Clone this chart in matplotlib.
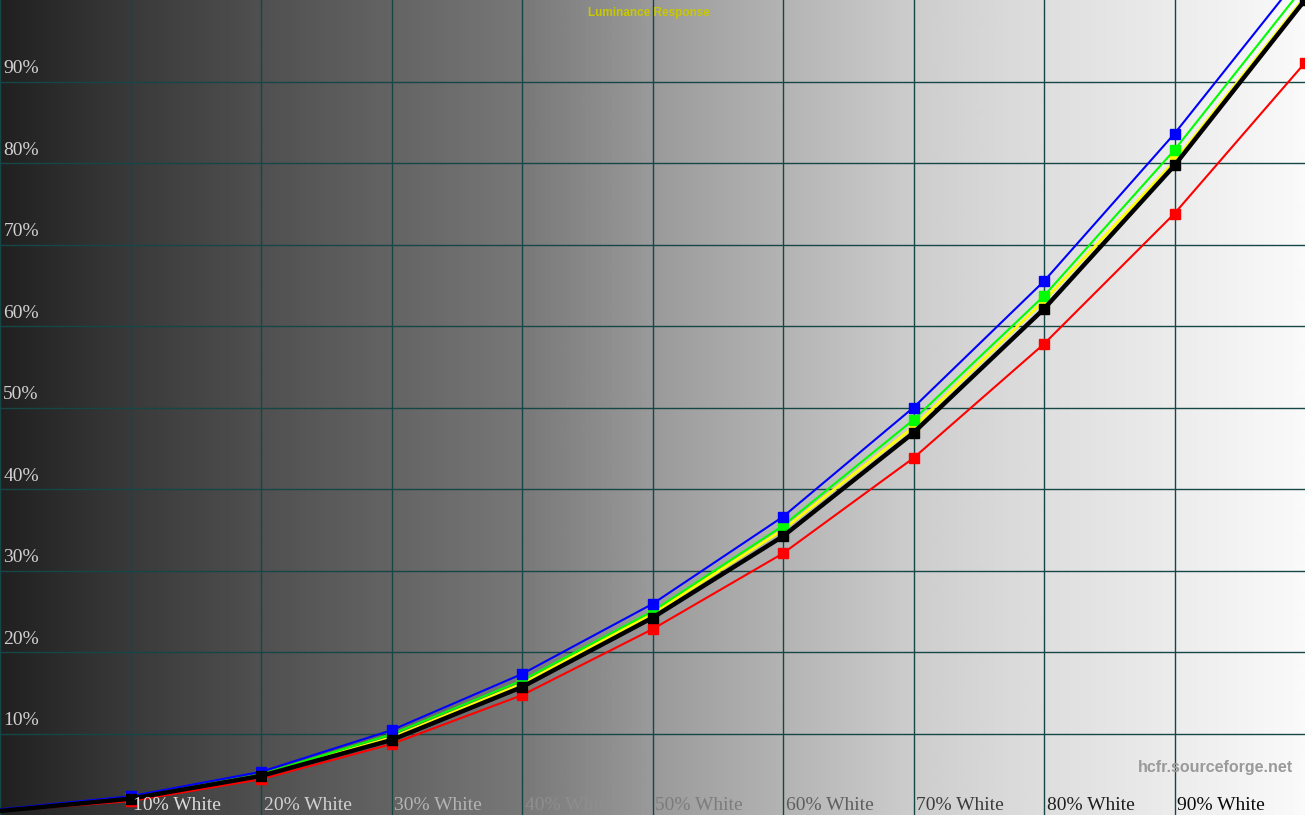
import numpy as np
import matplotlib
matplotlib.use("Agg")
import matplotlib.pyplot as plt
from matplotlib.colors import LinearSegmentedColormap

# Data (percent input vs percent luminance)
levels = [0, 10, 20, 30, 40, 50, 60, 70, 80, 90, 100]
blue = [0.7, 2.3, 5.3, 10.4, 17.3, 25.9, 36.6, 50.0, 65.5, 83.6, 103.7]
green = [0.6, 2.1, 5.0, 9.9, 16.5, 25.0, 35.5, 48.5, 63.7, 81.6, 101.8]
yellow = [0.5, 2.1, 4.9, 9.5, 16.1, 24.7, 35.0, 47.6, 63.1, 80.2, 100.4]
black = [0.5, 2.0, 4.8, 9.2, 15.7, 24.2, 34.2, 46.9, 62.1, 79.7, 100.0]
red = [0.5, 1.7, 4.4, 8.7, 14.7, 22.8, 32.1, 43.8, 57.8, 73.8, 92.3]

x_labels = ["10% White", "20% White", "30% White", "40% White", "50% White",
            "60% White", "70% White", "80% White", "90% White"]
x_label_colors = ["#dcdcdc", "#d2d2d2", "#b4b4b4", "#8e8e8e", "#7c7c7c",
                  "#5e5e5e", "#3c3c3c", "#1e1e1e", "#0a0a0a"]
y_labels = ["10%", "20%", "30%", "40%", "50%", "60%", "70%", "80%", "90%"]

# background grey ramp, left to right
bg_stops = [32, 58, 80, 100, 120, 154, 180, 205, 222, 236, 250]

fig = plt.figure(figsize=(13.05, 8.15), dpi=100)
ax = fig.add_axes([0, 0, 1, 1])
ax.set_xlim(0, 100)
ax.set_ylim(0, 100)

cmap = LinearSegmentedColormap.from_list(
    "bg", [(i / 10, [v / 255] * 3) for i, v in enumerate(bg_stops)])
grad = np.linspace(0, 1, 1305).reshape(1, -1)
ax.imshow(grad, cmap=cmap, aspect="auto", extent=[0, 100, 0, 100],
          interpolation="bilinear", zorder=0, vmin=0, vmax=1)

# grid (no lines on top/right/bottom edges)
for v in range(0, 100, 10):
    ax.axvline(v, color="#174646", lw=1.0, zorder=1)
for v in range(10, 100, 10):
    ax.axhline(v, color="#174646", lw=1.0, zorder=1)

# curves
mk = dict(marker="s", ms=7, markevery=list(range(1, 11)))
ax.plot(levels, red, color="#ff0000", lw=1.5, zorder=3, **mk)
ax.plot(levels, yellow, color="#ffff00", lw=2.0, zorder=3, **mk)
ax.plot(levels, black, color="#000000", lw=3.2, zorder=4, **mk)
ax.plot(levels, green, color="#00ff00", lw=1.5, zorder=3, **mk)
ax.plot(levels, blue, color="#0000ff", lw=1.5, zorder=3, **mk)

# axis labels drawn inside the plot
for i, lab in enumerate(y_labels):
    ax.text(0.25, (i + 1) * 10 + 0.55, lab, family="Liberation Serif",
            fontsize=14, color="#d0d0d0", ha="left", va="bottom", zorder=5)
for i, lab in enumerate(x_labels):
    ax.text((i + 1) * 10 + 0.2, 0.15, lab, family="Liberation Serif",
            fontsize=14, color=x_label_colors[i], ha="left", va="bottom",
            zorder=5)

ax.text(49.7, 98.45, "Luminance Response", family="Liberation Sans",
        fontweight="bold", fontsize=8.5, color="#c8c800", ha="center",
        va="center", zorder=5)
ax.text(99.1, 5.8, "hcfr.sourceforge.net", family="Liberation Sans",
        fontweight="bold", fontsize=11.5, color="#9a9a9a", ha="right",
        va="center", zorder=5)

ax.set_xticks([])
ax.set_yticks([])
for s in ax.spines.values():
    s.set_visible(False)

fig.savefig("out.png", dpi=100)
